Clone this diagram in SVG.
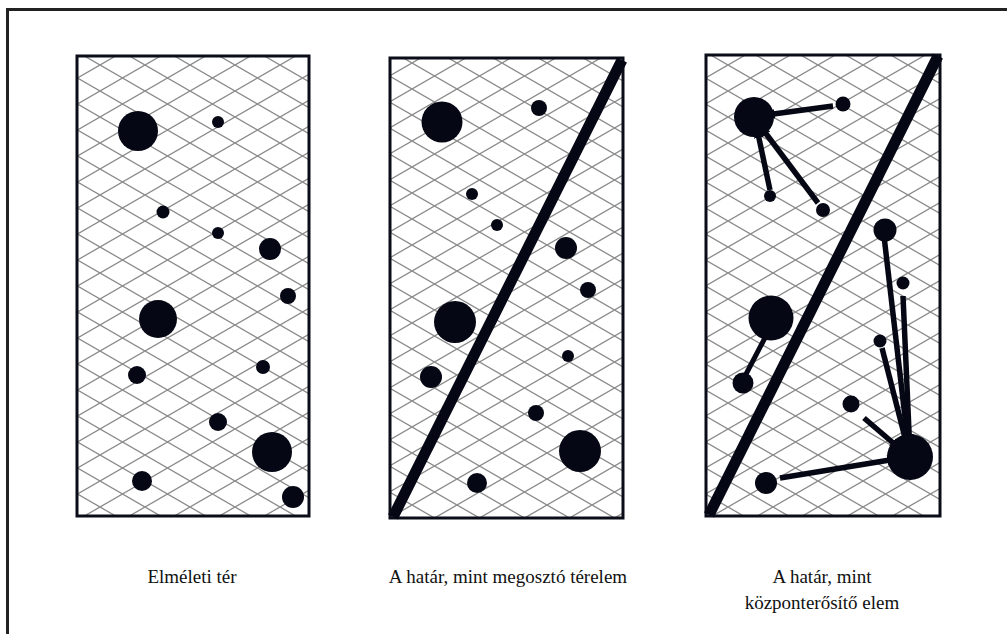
<svg xmlns="http://www.w3.org/2000/svg" width="1007" height="634" viewBox="0 0 1007 634">
<style>
.frame{fill:none;stroke:#222;stroke-width:3}
.panel{stroke:#0a0d18;stroke-width:3}
.hatch{fill:none;stroke:#8a8a8a;stroke-width:1.3}
.dot{fill:#050814}
.wall{stroke:#050814;stroke-width:11;stroke-linecap:butt}
.link{stroke:#050814;stroke-width:5;fill:none}
.arrow{stroke:#050814;stroke-width:5.5;fill:none;marker-end:url(#ah)}
.lbl{font-size:19px;fill:#111;text-anchor:middle}
</style>
<defs>
<path id="hx" d="M-4.5,-2.6 L49.5,28.6 M-4.5,28.6 L49.5,-2.6"/>
<pattern id="h1" patternUnits="userSpaceOnUse" x="55" y="39" width="45" height="26"><use href="#hx" class="hatch"/></pattern>
<pattern id="h2" patternUnits="userSpaceOnUse" x="412" y="63" width="45" height="26"><use href="#hx" class="hatch"/></pattern>
<pattern id="h3" patternUnits="userSpaceOnUse" x="728" y="65" width="45" height="26"><use href="#hx" class="hatch"/></pattern>
<marker id="ah" viewBox="0 0 10 10" refX="9" refY="5" markerWidth="1.8" markerHeight="2.4" orient="auto" markerUnits="strokeWidth"><path d="M0,0 L10,5 L0,10 z" fill="#050814"/></marker>
</defs>
<rect class="frame" x="7.5" y="9.5" width="1030" height="660"/>

<g id="panel1">
<rect class="panel" x="77" y="56" width="232" height="460" fill="url(#h1)"/>
</g>
<g id="panel2">
<rect class="panel" x="390" y="58" width="233" height="460" fill="url(#h2)"/>
</g>
<g id="panel3">
<rect class="panel" x="706" y="55" width="234" height="461" fill="url(#h3)"/>
</g>

<g id="boundaries">
<line class="wall" x1="393" y1="517" x2="622" y2="60"/>
<line class="wall" x1="709" y1="515" x2="938" y2="56"/>
</g>

<g id="connectors">
<line class="arrow" x1="833" y1="106" x2="766" y2="115"/>
<line class="arrow" x1="770" y1="190" x2="757" y2="129"/>
<line class="arrow" x1="818" y1="203" x2="761" y2="127"/>
<line class="link" x1="768" y1="332" x2="744" y2="378"/>
<line class="arrow" x1="884" y1="236" x2="908" y2="443"/>
<line class="arrow" x1="903" y1="296" x2="909.5" y2="443"/>
<line class="arrow" x1="882" y1="348" x2="906.5" y2="443.5"/>
<line class="arrow" x1="864" y1="418" x2="899" y2="448"/>
<line class="arrow" x1="780" y1="478" x2="896" y2="459"/>
</g>

<g id="nodes1">
<g id="p1n1"><circle class="dot" cx="138" cy="131" r="20"/></g>
<g id="p1n2"><circle class="dot" cx="218" cy="122" r="6"/></g>
<g id="p1n3"><circle class="dot" cx="163" cy="212" r="6.5"/></g>
<g id="p1n4"><circle class="dot" cx="218" cy="233" r="6"/></g>
<g id="p1n5"><circle class="dot" cx="270" cy="249" r="11"/></g>
<g id="p1n6"><circle class="dot" cx="288" cy="296" r="8"/></g>
<g id="p1n7"><circle class="dot" cx="158" cy="319" r="19"/></g>
<g id="p1n8"><circle class="dot" cx="137" cy="375" r="9"/></g>
<g id="p1n9"><circle class="dot" cx="263" cy="367" r="7"/></g>
<g id="p1n10"><circle class="dot" cx="218" cy="422" r="9"/></g>
<g id="p1n11"><circle class="dot" cx="272" cy="452" r="20"/></g>
<g id="p1n12"><circle class="dot" cx="142" cy="481" r="10"/></g>
<g id="p1n13"><circle class="dot" cx="293" cy="497" r="11"/></g>
</g>
<g id="nodes2">
<g id="p2n1"><circle class="dot" cx="442" cy="122" r="20.5"/></g>
<g id="p2n2"><circle class="dot" cx="539" cy="108" r="8"/></g>
<g id="p2n3"><circle class="dot" cx="472" cy="194" r="6"/></g>
<g id="p2n4"><circle class="dot" cx="497" cy="225" r="6"/></g>
<g id="p2n5"><circle class="dot" cx="566" cy="248" r="11"/></g>
<g id="p2n6"><circle class="dot" cx="588" cy="290" r="8"/></g>
<g id="p2n7"><circle class="dot" cx="455" cy="322" r="21"/></g>
<g id="p2n8"><circle class="dot" cx="568" cy="356" r="6"/></g>
<g id="p2n9"><circle class="dot" cx="431" cy="377" r="11"/></g>
<g id="p2n10"><circle class="dot" cx="536" cy="413" r="8"/></g>
<g id="p2n11"><circle class="dot" cx="580" cy="451" r="21"/></g>
<g id="p2n12"><circle class="dot" cx="477" cy="483" r="10"/></g>
</g>
<g id="nodes3">
<g id="p3n1"><circle class="dot" cx="754" cy="117" r="20"/></g>
<g id="p3n2"><circle class="dot" cx="843" cy="104" r="7.5"/></g>
<g id="p3n3"><circle class="dot" cx="770" cy="196" r="6"/></g>
<g id="p3n4"><circle class="dot" cx="823" cy="210" r="7"/></g>
<g id="p3n5"><circle class="dot" cx="885" cy="230" r="11.5"/></g>
<g id="p3n6"><circle class="dot" cx="903" cy="283" r="6.5"/></g>
<g id="p3n7"><circle class="dot" cx="771" cy="318" r="22.5"/></g>
<g id="p3n8"><circle class="dot" cx="880" cy="341" r="6.5"/></g>
<g id="p3n9"><circle class="dot" cx="743" cy="383" r="10.5"/></g>
<g id="p3n10"><circle class="dot" cx="851" cy="404" r="8.5"/></g>
<g id="p3n11"><circle class="dot" cx="910" cy="457" r="23"/></g>
<g id="p3n12"><circle class="dot" cx="766" cy="483" r="11"/></g>
</g>

<g id="labels" font-family="'Liberation Serif', 'DejaVu Serif', serif">
<text class="lbl" x="192" y="583">Elméleti tér</text>
<text class="lbl" x="508" y="583">A határ, mint megosztó térelem</text>
<text class="lbl" x="822" y="583">A határ, mint</text>
<text class="lbl" x="822" y="609">központerősítő elem</text>
</g>
</svg>
